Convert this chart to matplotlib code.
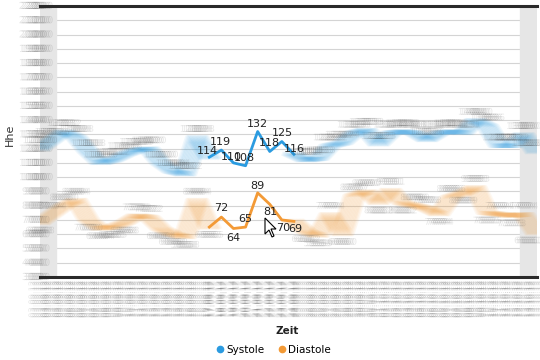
import numpy as np
import matplotlib
matplotlib.use('Agg')
import matplotlib.pyplot as plt
from matplotlib import transforms
from matplotlib import patheffects as pe
from matplotlib.patches import Polygon, Rectangle
from matplotlib.lines import Line2D

# values (mmHg)
systole = [120, 126, 132, 128, 118, 110, 112, 116, 119, 120, 110, 104, 102, 128,
           114, 119, 110, 108, 132, 118, 125, 116,
           112, 113, 122, 124, 131, 133, 123, 131, 132, 131, 126, 131, 132, 131,
           140, 136, 122, 122, 130, 118]
diastole = [68, 74, 80, 84, 70, 64, 65, 68, 73, 72, 64, 60, 58, 84,
            65, 72, 64, 65, 89, 81, 70, 69,
            62, 59, 74, 60, 87, 90, 82, 91, 82, 80, 78, 74, 86, 89,
            93, 75, 74, 73, 74, 61]
dates = ['03.09.12', '04.09.12', '05.09.12', '06.09.12', '07.09.12', '08.09.12',
         '09.09.12', '10.09.12', '11.09.12', '12.09.12', '13.09.12', '14.09.12',
         '15.09.12', '16.09.12', '17.09.12', '18.09.12', '19.09.12', '20.09.12',
         '21.09.12', '22.09.12', '23.09.12', '24.09.12', '25.09.12', '26.09.12',
         '27.09.12', '28.09.12', '29.09.12', '30.09.12', '01.10.12', '02.10.12',
         '03.10.12', '04.10.12', '05.10.12', '06.10.12', '07.10.12', '08.10.12',
         '09.10.12', '10.10.12', '11.10.12', '12.10.12', '13.10.12', '14.10.12']
yticks = list(range(30, 221, 10))
focus_start, focus_end = 14, 21   # the sharp (hovered) part

blue = '#2b9be0'
orange = '#f39a36'

fig = plt.figure(figsize=(5.4, 3.6), dpi=100)
ax = fig.add_axes([40/540, 1-277/360, 497/540, 271/360])
x = np.arange(len(systole))
ax.set_xlim(0.16, 41.1)
ax.set_ylim(30, 220)


def shifted(base, dx, dy=0):
    return transforms.offset_copy(base, fig=fig, x=dx, y=dy, units='dots')


def smear(spread, n=10, color='#333', alpha=0.11):
    # horizontal motion blur drawn as shadows of one text
    k = 72 / fig.dpi
    return [pe.SimplePatchShadow(offset=(dx * k, 0), shadow_rgbFace=color, alpha=alpha)
            for dx in np.linspace(-spread, spread, n)]


# grid + frame
ax.set_yticks(yticks)
ax.set_yticklabels([])
ax.set_xticks(x)
ax.set_xticklabels([])
ax.tick_params(length=0)
ax.grid(axis='y', color='#d4d4d4', lw=0.8)
ax.set_axisbelow(True)
for s in ['left', 'right']:
    ax.spines[s].set_visible(False)
for s in ['top', 'bottom']:
    ax.spines[s].set_color('#2a2a2a')
    ax.spines[s].set_linewidth(2.2)
ax.add_patch(Rectangle((0, 0), 16/497, 1, transform=ax.transAxes, color='#e6e6e6', zorder=0.6))
ax.add_patch(Rectangle((480/497, 0), 17/497, 1, transform=ax.transAxes, color='#e6e6e6', zorder=0.6))

# motion-blurred parts of the lines
for vals, col in [(systole, blue), (diastole, orange)]:
    v = np.array(vals)
    for dx in np.linspace(-10, 10, 15):
        tr = shifted(ax.transData, dx)
        ax.plot(x[:focus_start+1], v[:focus_start+1], transform=tr, color=col,
                lw=3.2, alpha=0.07, solid_joinstyle='round')
        ax.plot(x[focus_end:], v[focus_end:], transform=tr, color=col,
                lw=3.2, alpha=0.07, solid_joinstyle='round')
    ax.plot(x[focus_start:focus_end+1], v[focus_start:focus_end+1], color=col, lw=2,
            solid_joinstyle='round', zorder=3)

# value labels
sys_off = {14: (-2, 6), 15: (-1, 8), 16: (-2, 6), 17: (-1, 8), 18: (0, 8),
           19: (0, 8), 20: (1, 9), 21: (0, 5)}
dia_off = {15: (0, 9), 16: (0, -9), 17: (0, 8), 18: (0, 7), 19: (1, -8),
           20: (1, -8), 21: (1, -8)}
last = len(systole) - 1
for i in x:
    edge_dx = -7 if i == last else 0
    if i in sys_off:
        dx, dy = sys_off[i]
        ax.text(i, systole[i], str(systole[i]), transform=shifted(ax.transData, dx, dy),
                ha='center', va='center', fontsize=8, color='#222', zorder=4)
    else:
        ax.text(i, systole[i], str(systole[i]), transform=shifted(ax.transData, edge_dx, 8),
                ha='center', va='center', fontsize=6.5, path_effects=smear(9))
    if i in dia_off:
        dx, dy = dia_off[i]
        ax.text(i, diastole[i], str(diastole[i]), transform=shifted(ax.transData, dx, dy),
                ha='center', va='center', fontsize=8, color='#222', zorder=4)
    else:
        nb = [diastole[j] for j in (i-1, i+1) if 0 <= j < len(diastole)]
        dy = 8 if diastole[i] >= np.mean(nb) else -8
        ax.text(i, diastole[i], str(diastole[i]), transform=shifted(ax.transData, edge_dx, dy),
                ha='center', va='center', fontsize=6.5, path_effects=smear(9))

# blurred y tick labels
ytr = transforms.blended_transform_factory(ax.transAxes, ax.transData)
for t in yticks:
    ax.text(-4/497, t, str(t), transform=ytr, ha='center', va='center', fontsize=7,
            clip_on=False, path_effects=smear(8, 9, '#333', 0.12))

# blurred date labels
xtr = transforms.blended_transform_factory(ax.transData, ax.transAxes)
for i, d in enumerate(dates):
    sp = 3 if focus_start <= i <= focus_end else 8
    ax.text(i, 0, d, transform=shifted(xtr, 0, -4), ha='center', va='top',
            rotation=90, fontsize=6, clip_on=False,
            path_effects=smear(sp, 9, '#444', 0.12))

fig.text(287/540, 1-331/360, 'Zeit', ha='center', va='center', fontsize=7.5,
         fontweight='bold', color='#222')
fig.text(10/540, 1-135/360, 'Hhe', rotation=90, ha='center', va='center',
         fontsize=8, color='#333')

handles = [Line2D([], [], marker='o', ls='', color=blue, markersize=4.5, label='Systole'),
           Line2D([], [], marker='o', ls='', color=orange, markersize=4.5, label='Diastole')]
fig.legend(handles=handles, loc='center', bbox_to_anchor=(0.505, 0.028), ncol=2,
           frameon=False, fontsize=7.5, handletextpad=0.1, columnspacing=1.2,
           handlelength=1)

# mouse pointer from the screenshot
tip = (265, 218)
shape = [(0, 0), (0, 16), (4, 12), (7, 19), (9, 18), (6, 11), (11, 11)]
pts = [(tip[0] + px, 360 - (tip[1] + py)) for px, py in shape]
fig.add_artist(Polygon(pts, closed=True, facecolor='white', edgecolor='black', lw=0.8,
                       transform=transforms.IdentityTransform(), zorder=10))

fig.savefig('out.png', dpi=100, facecolor='white')
